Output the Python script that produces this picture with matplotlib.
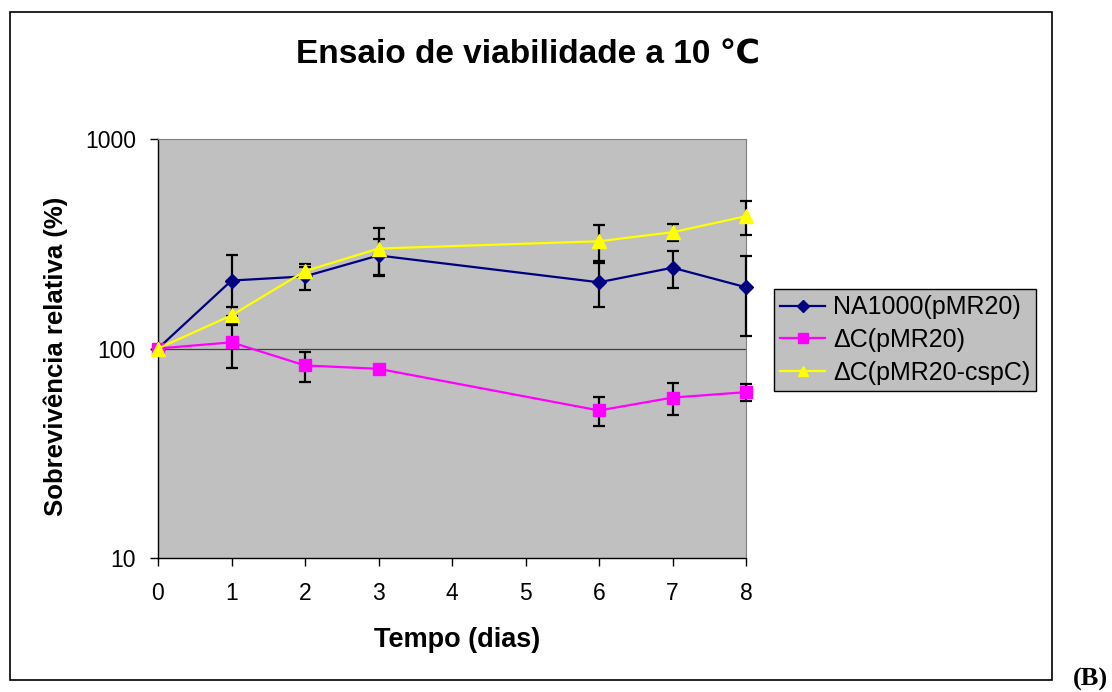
import matplotlib
matplotlib.use("Agg")
import matplotlib.pyplot as plt
from matplotlib.patches import Rectangle
from matplotlib.ticker import FixedLocator, NullLocator

plt.rcParams['font.family'] = ['Liberation Sans', 'DejaVu Sans']

days = [0, 1, 2, 3, 6, 7, 8]
na1000 = [100, 211, 221, 278, 207, 243, 196]
na1000_err = [0, 68, 31, 54, 50, 48, 81]
dc = [100, 107, 83, 80, 50.6, 58.3, 61.9]
dc_err = [0, 26, 13.5, 3, 7.8, 10, 5.8]
dc_csp = [100, 144, 234, 300, 325, 359, 428]
dc_csp_err = [0, 14, 10, 77, 62, 32, 79]
labels = ['NA1000(pMR20)', 'ΔC(pMR20)', 'ΔC(pMR20-cspC)']
yticks = [10, 100, 1000]

W, H = 1112, 692
fig = plt.figure(figsize=(W / 100, H / 100), dpi=100)


def fx(px):
    return px / W


def fy(py):
    return 1 - py / H


# outer chart border
fig.patches.append(Rectangle((fx(10), fy(680)), (1052 - 10) / W, (680 - 12) / H,
                             transform=fig.transFigure, fill=False, ec='black', lw=1.2))

ax = fig.add_axes([fx(158), fy(558), (746 - 158) / W, (558 - 139) / H])
ax.set_facecolor('#C0C0C0')
ax.set_yscale('log')
ax.set_ylim(10, 1000)
ax.set_xlim(0, 8)
ax.yaxis.set_major_locator(FixedLocator(yticks))
ax.yaxis.set_minor_locator(NullLocator())
ax.set_yticklabels([str(v) for v in yticks])
ax.set_xticks(range(0, 9))
ax.axhline(100, color='#404040', lw=0.9, zorder=1)

for s in ['top', 'right']:
    ax.spines[s].set_color('#808080')
for s in ['left', 'bottom']:
    ax.spines[s].set_color('black')
    ax.spines[s].set_linewidth(1.0)
ax.tick_params(axis='both', direction='out', length=6, width=1, labelsize=16.5, colors='black')
ax.tick_params(axis='y', pad=10)
ax.tick_params(axis='x', pad=11)

ekw = dict(ecolor='black', elinewidth=1.6, capsize=4.5, capthick=1.6, zorder=3)
ax.errorbar(days, na1000, yerr=na1000_err, color='#000080', lw=1.6, marker='D', ms=7,
            mec='#000080', label=labels[0], clip_on=False, **ekw)
ax.errorbar(days, dc, yerr=dc_err, color='#FF00FF', lw=1.6, marker='s', ms=8,
            mec='#FF00FF', label=labels[1], clip_on=False, **ekw)
ax.errorbar(days, dc_csp, yerr=dc_csp_err, color='#FFFF00', lw=1.6, marker='^', ms=9.5,
            mec='#FFFF00', label=labels[2], clip_on=False, **ekw)

fig.text(fx(528), fy(63), 'Ensaio de viabilidade a 10 ℃', fontsize=24, fontweight='bold',
         ha='center', va='baseline')
fig.text(fx(457), fy(647), 'Tempo (dias)', fontsize=19.5, fontweight='bold',
         ha='center', va='baseline')
fig.text(fx(63), fy(356), 'Sobrevivência relativa (%)', fontsize=18.5, fontweight='bold',
         ha='center', va='baseline', rotation=90, rotation_mode='anchor')

handles, labs = ax.get_legend_handles_labels()
handles = [h[0] for h in handles]
leg = fig.legend(handles, labs, loc='upper left', bbox_to_anchor=(fx(774), fy(289)),
                 fontsize=18, frameon=True, fancybox=False, borderpad=0.25,
                 labelspacing=0.35, handlelength=1.8, handletextpad=0.3, borderaxespad=0)
leg.get_frame().set_facecolor('#C0C0C0')
leg.get_frame().set_edgecolor('black')
leg.get_frame().set_linewidth(1.0)
leg.get_frame().set_alpha(1)
for h in leg.legend_handles:
    h.set_markersize(6.5)

fig.text(fx(1108), fy(686), '(B)', family='Liberation Serif', fontweight='bold',
         fontsize=19, ha='right', va='baseline')

fig.savefig('out.png', dpi=100)
